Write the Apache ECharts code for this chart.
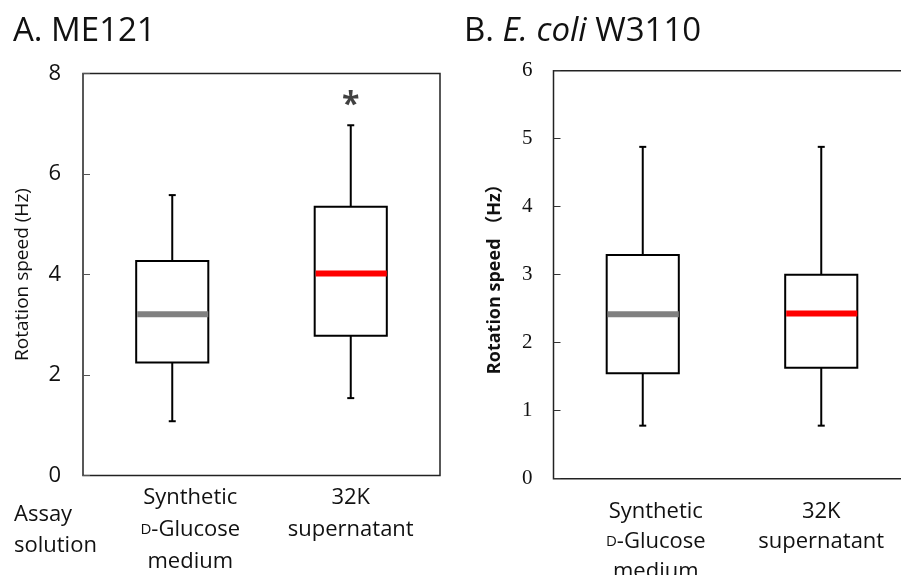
<!DOCTYPE html>
<html>
<head>
<meta charset="utf-8">
<script src="https://cdn.jsdelivr.net/npm/echarts@6/dist/echarts.min.js"></script>
<style>html,body{margin:0;padding:0;background:#fff}#c{width:901px;height:575px}</style>
</head>
<body>
<div id="c"></div>
<script>
// ---- data ----
const categories = ['Synthetic\nD-Glucose\nmedium', '32K\nsupernatant'];
// [min, q1, median, q3, max]
const boxA = [[1.08, 2.25, 3.21, 4.27, 5.58], [1.54, 2.78, 4.02, 5.35, 6.97]];
const boxB = [[0.78, 1.55, 2.42, 3.29, 4.88], [0.78, 1.63, 2.43, 3.00, 4.88]];
const ticksA = [0, 2, 4, 6, 8];
const ticksB = [0, 1, 2, 3, 4, 5, 6];
const significance = [[1, 7.35]];
const medianColors = ['#808080', '#ff0000'];

const sans = "'Open Sans', 'Noto Sans', 'Noto Sans CJK JP', sans-serif";
const serif = "'Liberation Serif', 'DejaVu Serif', serif";

function boxRender(params, api) {
  const i = api.value(0);
  const mn = api.coord([i, api.value(1)]);
  const q1 = api.coord([i, api.value(2)]);
  const md = api.coord([i, api.value(3)]);
  const q3 = api.coord([i, api.value(4)]);
  const mx = api.coord([i, api.value(5)]);
  const w = api.size([1, 0])[0] * 0.404;
  const x = mn[0];
  const lw = 2, cap = 3.5;
  const black = {stroke: '#000', lineWidth: lw};
  return {
    type: 'group',
    children: [
      {type: 'line', shape: {x1: x, y1: mn[1], x2: x, y2: q1[1]}, style: black},
      {type: 'line', shape: {x1: x, y1: q3[1], x2: x, y2: mx[1]}, style: black},
      {type: 'line', shape: {x1: x - cap, y1: mn[1], x2: x + cap, y2: mn[1]}, style: black},
      {type: 'line', shape: {x1: x - cap, y1: mx[1], x2: x + cap, y2: mx[1]}, style: black},
      {type: 'rect', shape: {x: x - w / 2, y: q3[1], width: w, height: q1[1] - q3[1]}, style: {fill: '#fff', stroke: '#000', lineWidth: lw}},
      {type: 'line', shape: {x1: x - w / 2 + 1, y1: md[1], x2: x + w / 2, y2: md[1]}, style: {stroke: medianColors[i], lineWidth: 6}}
    ]
  };
}

function catFormatter() {
  return function (value, index) {
    return value.split('\n').map(function (line) {
      let s = line.indexOf('D-') === 0 ? '{sc|D}{t|' + line.slice(1) + '}' : '{t|' + line + '}';
      if (index === 0) s = '{sp| }' + s;
      return s;
    }).join('\n');
  };
}
function catRich(lh, shift) {
  return {
    t: {fontSize: 22, fontFamily: sans, color: '#111', lineHeight: lh},
    sc: {fontSize: 15, fontFamily: sans, color: '#111', lineHeight: lh},
    sp: {width: shift, fontSize: 22, lineHeight: lh}
  };
}

const chart = echarts.init(document.getElementById('c'), null, {renderer: 'canvas'});
chart.setOption({
  animation: false,
  backgroundColor: '#fff',
  title: [
    {text: 'A. ME121', left: 8, top: 10, textStyle: {fontSize: 33, fontWeight: 'normal', fontFamily: sans, color: '#111'}},
    {text: '{n|B. }{i|E. coli}{n| W3110}', left: 459, top: 10,
      textStyle: {fontWeight: 'normal', rich: {
        n: {fontSize: 33, fontWeight: 'normal', fontFamily: sans, color: '#111'},
        i: {fontSize: 33, fontWeight: 'normal', fontFamily: sans, fontStyle: 'italic', color: '#111'}
      }}}
  ],
  graphic: [
    {type: 'text', left: 14, top: 499, style: {text: 'Assay\nsolution', font: '22px ' + sans, lineHeight: 31, fill: '#111'}}
  ],
  grid: [
    {left: 83, top: 73.5, width: 357, height: 402, show: true, borderColor: '#222', borderWidth: 1.5, backgroundColor: 'transparent', outerBoundsMode: 'none', containLabel: false},
    {left: 553.5, top: 70.7, width: 357, height: 408, show: true, borderColor: '#222', borderWidth: 1.5, backgroundColor: 'transparent', outerBoundsMode: 'none', containLabel: false}
  ],
  xAxis: [
    {type: 'category', gridIndex: 0, data: categories, boundaryGap: true,
      axisLine: {show: false}, axisTick: {show: false},
      axisLabel: {interval: 0, margin: 6, formatter: catFormatter(), rich: catRich(32, 36)}},
    {type: 'category', gridIndex: 1, data: categories, boundaryGap: true,
      axisLine: {show: false}, axisTick: {show: false},
      axisLabel: {interval: 0, margin: 18, formatter: catFormatter(), rich: catRich(30, 26)}}
  ],
  yAxis: [
    {type: 'value', gridIndex: 0, min: ticksA[0], max: ticksA[ticksA.length - 1], interval: 2,
      splitLine: {show: false}, axisLine: {show: false},
      axisTick: {show: true, inside: true, length: 7, lineStyle: {color: '#555', width: 1}},
      axisLabel: {margin: 22, fontSize: 22, fontFamily: sans, color: '#111'},
      name: 'Rotation speed (Hz)', nameLocation: 'middle', nameGap: 51, nameRotate: 90,
      nameTextStyle: {fontSize: 19, fontFamily: sans, color: '#111'}},
    {type: 'value', gridIndex: 1, min: ticksB[0], max: ticksB[ticksB.length - 1], interval: 1,
      splitLine: {show: false}, axisLine: {show: false},
      axisTick: {show: true, inside: true, length: 7, lineStyle: {color: '#333', width: 1}},
      axisLabel: {margin: 21, fontSize: 21, fontFamily: serif, color: '#111'},
      name: 'Rotation speed \uFF08Hz\uFF09', nameLocation: 'middle', nameGap: 50, nameRotate: 90,
      nameTextStyle: {fontSize: 18, fontWeight: 'bold', fontFamily: sans, color: '#111'}}
  ],
  series: [
    {type: 'custom', xAxisIndex: 0, yAxisIndex: 0, renderItem: boxRender,
      data: boxA.map(function (v, i) { return [i].concat(v); })},
    {type: 'custom', xAxisIndex: 1, yAxisIndex: 1, renderItem: boxRender,
      data: boxB.map(function (v, i) { return [i].concat(v); })},
    {type: 'scatter', xAxisIndex: 0, yAxisIndex: 0, symbolSize: 0, data: significance,
      label: {show: true, position: 'inside', formatter: '*', fontSize: 32, fontWeight: 'bold', fontFamily: sans, color: '#111'}}
  ]
});
</script>
</body>
</html>
